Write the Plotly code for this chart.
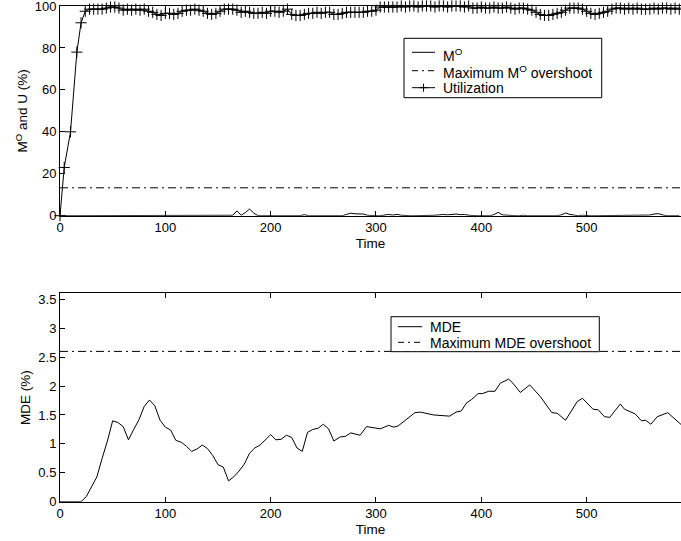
import plotly.graph_objects as go

# ---------------- data ----------------
util_time = [0, 4, 10, 16, 20] + list(range(24, 589, 4))
utilization = [0, 23, 40, 78, 92,
    97.5, 98.5, 98.5, 98.5, 98.5, 99,
    99.5, 99.5, 99,
    98, 98.5, 98, 98.5, 98, 98.5,
    97.5, 97, 96, 95.5, 96.5,
    96.5, 96, 96.5,
    97.5, 98, 98, 98.5, 98, 97.5,
    96.5, 96, 96.5, 97.5,
    98.5, 98.5, 98.5, 98,
    97, 97.5, 97,
    96.5, 96.5, 97, 96.5,
    97.5, 97.5, 97, 97.5, 98.5,
    96, 95.5, 95.5, 96,
    96.5, 96.5, 97, 96.5, 97, 97,
    96, 96,
    96.5, 97, 97, 97, 97, 97, 97.5, 97.5, 98,
    99.5, 99.5, 99.5, 99.5, 99.5, 100, 99.5, 100, 100, 99.5, 100, 100, 100, 99.5, 100, 100, 99.5, 100, 100, 100, 99.5, 100,
    99, 99, 99.5, 99, 99, 99.5, 99, 99, 99.5, 99, 98.5, 99, 99, 98.5,
    98, 97, 96, 95.5, 95.5, 96, 96.5, 97, 98,
    99, 99, 99, 98.5,
    97.5, 96.5, 96, 96.5, 97, 97.5, 98.5,
    99, 99, 98.5, 99, 98.5, 99, 98.5, 98.5, 98.5, 99, 98.5, 99, 99, 98.5, 99, 98.5]

# M^O (%) : non-zero samples, everything else is 0
mo_nonzero = {164: 0.2, 168: 2.3, 172: 0.2, 176: 1.5, 180: 3.2, 184: 1.2,
              232: 0.5,
              272: 0.6, 276: 1.2, 280: 0.9, 284: 1.0, 288: 0.8, 292: 0.2,
              308: 0.2, 312: 0.6, 316: 0.3, 320: 0.6, 324: 0.2,
              356: 0.2, 360: 0.4, 364: 0.6, 368: 0.4, 372: 0.7, 376: 0.8,
              380: 0.5, 384: 0.6, 388: 0.2,
              412: 0.5, 416: 1.6, 420: 0.4, 424: 0.2,
              440: 0.2, 452: 0.2,
              476: 0.4, 480: 1.3, 484: 0.6, 488: 0.2, 496: 0.2,
              560: 0.3, 564: 0.8, 568: 1.0, 572: 0.4}
mo_values = [mo_nonzero.get(t, 0) for t in util_time]
MO_MAX = 13.3

mde_time = [0, 20, 25, 30, 35, 40, 45, 50, 55, 60, 65, 70, 75, 80, 85, 90, 95, 100,
            105, 110, 115, 120, 125, 130, 135, 140, 145, 150, 155, 160, 165, 170,
            175, 180, 185, 190, 195, 200, 205, 210, 215, 220, 225, 230, 235, 240,
            245, 250, 255, 260, 266, 271, 276, 285, 291, 304, 312, 317, 321, 337,
            342, 355, 370, 376, 381, 386, 391, 397, 401, 407, 413, 418, 426, 430,
            437, 446, 456, 467, 472, 480, 491, 496, 506, 511, 517, 522, 532, 536,
            546, 552, 556, 561, 567, 577, 590]
mde_values = [0, 0, 0.09, 0.25, 0.43, 0.75, 1.05, 1.4, 1.37, 1.3, 1.07, 1.25, 1.42,
              1.65, 1.76, 1.66, 1.41, 1.29, 1.24, 1.06, 1.03, 0.96, 0.87, 0.91,
              0.98, 0.92, 0.8, 0.64, 0.6, 0.36, 0.43, 0.53, 0.65, 0.84, 0.93, 0.98,
              1.07, 1.16, 1.07, 1.08, 1.15, 1.11, 0.93, 0.87, 1.2, 1.25, 1.27, 1.34,
              1.26, 1.05, 1.12, 1.13, 1.19, 1.15, 1.3, 1.26, 1.32, 1.29, 1.31, 1.54,
              1.55, 1.5, 1.48, 1.55, 1.57, 1.71, 1.77, 1.87, 1.87, 1.91, 1.91, 2.05,
              2.12, 2.05, 1.89, 2.02, 1.82, 1.54, 1.53, 1.41, 1.73, 1.79, 1.6, 1.59,
              1.47, 1.46, 1.69, 1.6, 1.52, 1.4, 1.41, 1.34, 1.47, 1.54, 1.33]
MDE_MAX = 2.6

x_ticks = [0, 100, 200, 300, 400, 500]
top_y_ticks = [0, 20, 40, 60, 80, 100]
bot_y_ticks = [0, 0.5, 1, 1.5, 2, 2.5, 3, 3.5]

top_legend_labels = ["M<sup>O</sup>", "Maximum M<sup>O</sup> overshoot", "Utilization"]
bot_legend_labels = ["MDE", "Maximum MDE overshoot"]

# ---------------- figure ----------------
W, H = 681, 541
FAMILY = "Liberation Sans, Arial, Helvetica, sans-serif"
FONT = dict(family=FAMILY, size=13, color="black")
TITLE_FONT = dict(family=FAMILY, size=13.5, color="black")
LEG_FONT = dict(family=FAMILY, size=14, color="black")
LW = 1
DASHDOT = "8px,4px,2px,4px"

ML, MR, MT, MB = 60, 0, 0, 0
pw = W - ML - MR

def px_x(v):
    return (v - ML) / pw

def px_y(v):
    return 1 - v / H

fig = go.Figure()
span = [min(util_time), max(mde_time)]

fig.add_trace(go.Scatter(x=util_time, y=mo_values, mode="lines", name=top_legend_labels[0],
                         line=dict(color="black", width=LW), xaxis="x", yaxis="y"))
fig.add_trace(go.Scatter(x=span, y=[MO_MAX, MO_MAX], mode="lines",
                         name=top_legend_labels[1],
                         line=dict(color="black", width=LW, dash=DASHDOT),
                         xaxis="x", yaxis="y"))
fig.add_trace(go.Scatter(x=util_time, y=utilization, mode="lines+markers",
                         name=top_legend_labels[2],
                         line=dict(color="black", width=LW),
                         marker=dict(symbol="cross-thin", size=8,
                                     line=dict(color="black", width=1), color="black"),
                         cliponaxis=False, xaxis="x", yaxis="y"))

fig.add_trace(go.Scatter(x=mde_time, y=mde_values, mode="lines", name=bot_legend_labels[0],
                         line=dict(color="black", width=LW), xaxis="x2", yaxis="y2"))
fig.add_trace(go.Scatter(x=span, y=[MDE_MAX, MDE_MAX], mode="lines",
                         name=bot_legend_labels[1],
                         line=dict(color="black", width=LW, dash=DASHDOT),
                         xaxis="x2", yaxis="y2"))

axis_common = dict(showgrid=False, zeroline=False, showline=True, linecolor="black",
                   linewidth=1, ticks="inside", ticklen=5, tickcolor="black",
                   tickwidth=1, tickfont=FONT, automargin=False,
                   ticklabeloverflow="allow")

x_range = [0, 589.6]

# ---------- hand-drawn legends (MATLAB style) ----------
shapes = []
annotations = []

def legend_box(x0, y0, x1, y1):
    shapes.append(dict(type="rect", xref="paper", yref="paper",
                       x0=px_x(x0), x1=px_x(x1), y0=px_y(y1), y1=px_y(y0),
                       line=dict(color="black", width=1), fillcolor="white", layer="above"))

def legend_line(x0, x1, y, dash="solid"):
    shapes.append(dict(type="line", xref="paper", yref="paper",
                       x0=px_x(x0), x1=px_x(x1), y0=px_y(y), y1=px_y(y),
                       line=dict(color="black", width=1, dash=dash), layer="above"))

def legend_plus(cx, cy, half=4):
    legend_line(cx - half, cx + half, cy)
    shapes.append(dict(type="line", xref="paper", yref="paper",
                       x0=px_x(cx), x1=px_x(cx), y0=px_y(cy - half), y1=px_y(cy + half),
                       line=dict(color="black", width=1), layer="above"))

def legend_text(x, y, text):
    annotations.append(dict(text=text, xref="paper", yref="paper", x=px_x(x), y=px_y(y),
                            xanchor="left", yanchor="middle", showarrow=False,
                            font=LEG_FONT, borderpad=0))

# top legend
legend_box(404, 38.3, 601.7, 97.7)
legend_line(412, 435, 52.3)
legend_text(442, 55, top_legend_labels[0])
legend_line(412, 435, 70.7, dash="6px,4px,2px,4px")
legend_text(442, 71.5, top_legend_labels[1])
legend_line(412, 435, 87.7)
legend_plus(423.5, 87.7)
legend_text(442, 88, top_legend_labels[2])

# bottom legend
legend_box(391, 316.7, 599.3, 351.7)
legend_line(398, 422, 326.7)
legend_text(429, 327, bot_legend_labels[0])
legend_line(398, 422, 342.3, dash="6px,4px,2px,4px")
legend_text(429, 342.5, bot_legend_labels[1])

fig.update_layout(
    width=W, height=H,
    margin=dict(l=ML, r=MR, t=MT, b=MB),
    paper_bgcolor="white", plot_bgcolor="white",
    font=FONT,
    showlegend=False,
    xaxis=dict(**axis_common, domain=[0, 1], range=x_range, tickvals=x_ticks,
               mirror="ticks", anchor="y",
               title=dict(text="Time", font=TITLE_FONT, standoff=4)),
    yaxis=dict(**axis_common, domain=[px_y(215.7), px_y(6)], range=[0, 100],
               tickvals=top_y_ticks, anchor="x",
               title=dict(text="M<sup>O</sup> and U (%)", font=TITLE_FONT, standoff=3)),
    xaxis2=dict(**axis_common, domain=[0, 1], range=x_range, tickvals=x_ticks,
                mirror="ticks", anchor="y2",
                title=dict(text="Time", font=TITLE_FONT, standoff=4)),
    yaxis2=dict(**axis_common, domain=[px_y(501.7), px_y(293.3)], range=[0, 3.605],
                tickvals=bot_y_ticks, anchor="x2",
                title=dict(text="MDE (%)", font=TITLE_FONT, standoff=4)),
    shapes=shapes,
    annotations=annotations,
)

fig.write_html("out.html")
